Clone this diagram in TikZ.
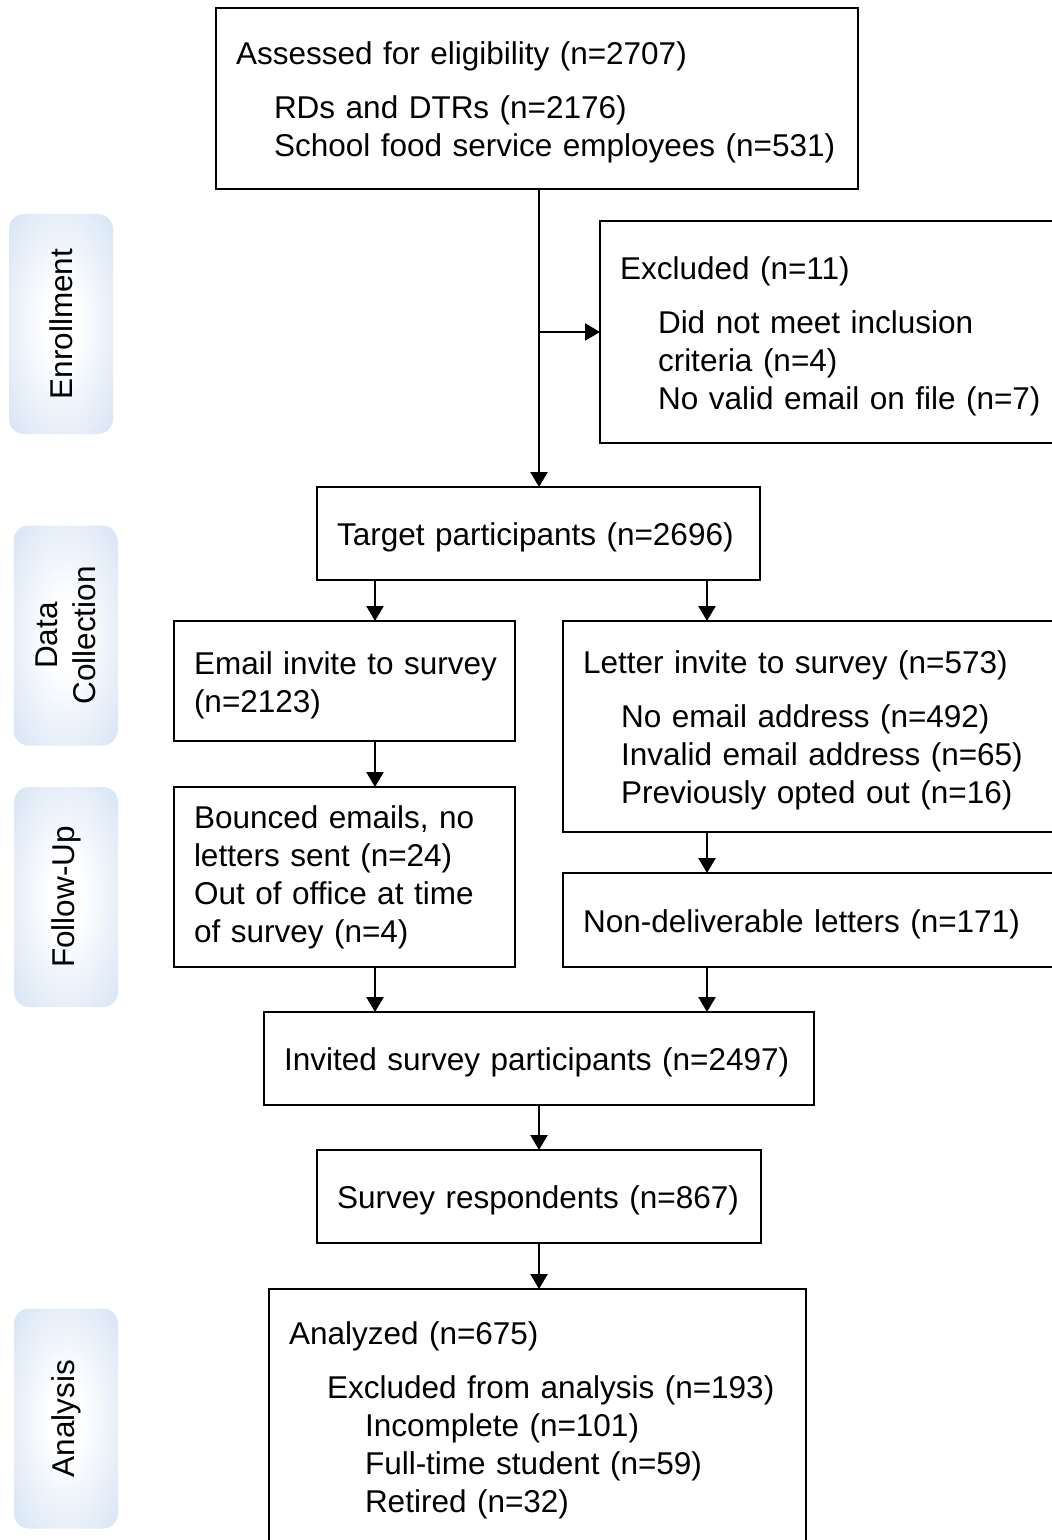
\documentclass[tikz,border=0pt]{standalone}
\usepackage{fontspec}
\setmainfont{Liberation Sans}
\usepackage{tikz}
\usetikzlibrary{arrows.meta,positioning}

\definecolor{phaseblue}{RGB}{194,214,239}
\pgfdeclareradialshading{phasefade}{\pgfpoint{0bp}{0bp}}{color(0bp)=(white); color(8bp)=(white); color(50bp)=(phaseblue); color(75bp)=(phaseblue)}

\tikzset{
  box/.style={draw, line width=1.2pt, anchor=north west, inner xsep=10pt, inner ysep=3pt,
    outer sep=0pt, align=left, font=\fontsize{15.75}{19}\selectfont},
  lower/.style={execute at begin node={\rule{0pt}{15.5pt}}},
  phase/.style={shade, shading=phasefade, rounded corners=7.5pt, rotate=90,
    minimum width=110pt, minimum height=52pt, align=center, font=\fontsize{15.75}{19}\selectfont},
  flow/.style={line width=1.2pt, -{Triangle[length=7.5pt,width=8.5pt]}}
}
\newcommand{\ind}{\hspace*{19pt}}
\newcommand{\tline}[1]{\mbox{#1}}

\begin{document}
\begin{tikzpicture}[x=0.5pt,y=-0.5pt]
  \path[use as bounding box, clip] (0,0) rectangle (1052,1540);
  % phase labels on the left
  \node[phase] (enrol) at (61,324) {Enrollment};
  \node[phase] (collect) at (65.5,635.5) {Data\\Collection};
  \node[phase] (follow) at (66,897) {Follow-Up};
  \node[phase] (analys) at (66,1418.5) {Analysis};
  % the boxes
  \node[box, lower, text width=301pt, minimum height=90.5pt] (assess) at (216,8)
    {\tline{Assessed for eligibility (n=2707)}\\[8pt]
     \tline{\ind RDs and DTRs (n=2176)}\\
     \tline{\ind School food service employees (n=531)}};
  \node[box, lower, text width=212pt, minimum height=111pt] (excl) at (600,221)
    {\tline{Excluded (n=11)}\\[8pt]
     \tline{\ind Did not meet inclusion}\\
     \tline{\ind criteria (n=4)}\\
     \tline{\ind No valid email on file (n=7)}};
  \node[box, lower, text width=201.5pt, minimum height=46.5pt] (target) at (317,487)
    {\tline{Target participants (n=2696)}};
  \node[box, lower, text width=150.5pt, minimum height=60pt] (email) at (174,621)
    {\tline{Email invite to survey}\\\tline{(n=2123)}};
  \node[box, lower, text width=230.5pt, minimum height=105.5pt] (letter) at (563,621)
    {\tline{Letter invite to survey (n=573)}\\[8pt]
     \tline{\ind No email address (n=492)}\\
     \tline{\ind Invalid email address (n=65)}\\
     \tline{\ind Previously opted out (n=16)}};
  \node[box, text width=150.5pt, minimum height=90pt] (bounce) at (174,787)
    {\tline{Bounced emails, no}\\\tline{letters sent (n=24)}\\
     \tline{Out of office at time}\\\tline{of survey (n=4)}};
  \node[box, lower, text width=230.5pt, minimum height=47pt] (nondel) at (563,873)
    {\tline{Non-deliverable letters (n=171)}};
  \node[box, lower, text width=255pt, minimum height=46.5pt] (invite) at (264,1012)
    {\tline{Invited survey participants (n=2497)}};
  \node[box, lower, text width=202pt, minimum height=46.5pt] (resp) at (317,1150)
    {\tline{Survey respondents (n=867)}};
  \node[box, text width=248.5pt, minimum height=131pt] (analyz) at (269,1289)
    {\tline{Analyzed (n=675)}\\[8pt]
     \tline{\ind Excluded from analysis (n=193)}\\
     \tline{\ind\ind Incomplete (n=101)}\\
     \tline{\ind\ind Full-time student (n=59)}\\
     \tline{\ind\ind Retired (n=32)}};
  % arrow columns
  \coordinate (mid) at (539,0);
  \coordinate (lcol) at (375,0);
  \coordinate (rcol) at (707,0);
  \draw[flow] (assess.south -| mid) -- (target.north -| mid);
  \draw[flow] (excl.west -| mid) -- (excl.west);
  \draw[flow] (target.south -| lcol) -- (email.north -| lcol);
  \draw[flow] (target.south -| rcol) -- (letter.north -| rcol);
  \draw[flow] (email.south -| lcol) -- (bounce.north -| lcol);
  \draw[flow] (letter.south -| rcol) -- (nondel.north -| rcol);
  \draw[flow] (bounce.south -| lcol) -- (invite.north -| lcol);
  \draw[flow] (nondel.south -| rcol) -- (invite.north -| rcol);
  \draw[flow] (invite.south -| mid) -- (resp.north -| mid);
  \draw[flow] (resp.south -| mid) -- (analyz.north -| mid);
\end{tikzpicture}
\end{document}
